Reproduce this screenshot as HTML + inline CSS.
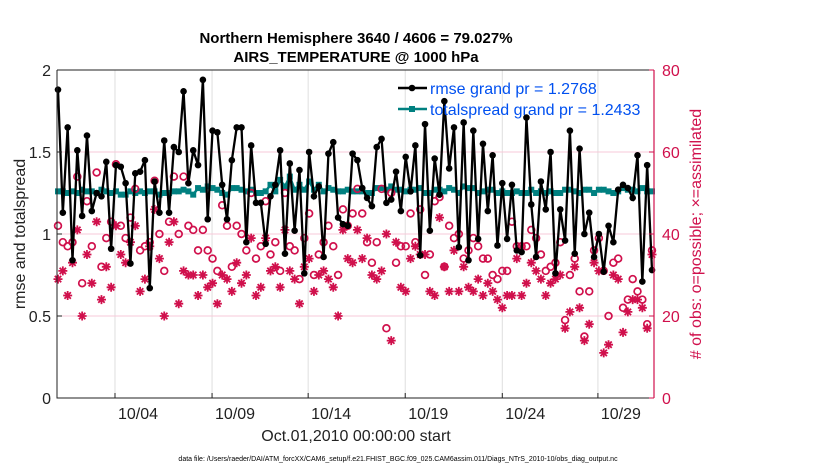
<!DOCTYPE html>
<html><head><meta charset="utf-8"><style>
body{margin:0;background:#fff;}
svg text{font-family:"Liberation Sans",Arial,sans-serif;}
</style></head><body>
<svg id="chart" width="830" height="470" viewBox="0 0 830 470" xmlns="http://www.w3.org/2000/svg">
<rect width="830" height="470" fill="#fff"/>
<g id="grid"></g>
<g id="marks"></g>
<g id="axes"></g>
</svg>
<script>
const rmse=[1.88,1.13,1.65,0.84,1.51,1.11,1.60,1.14,1.25,1.23,1.44,0.91,1.42,1.41,1.31,0.82,1.37,1.38,1.45,0.67,1.32,1.13,1.57,1.13,1.53,1.50,1.87,1.31,1.51,1.42,1.94,1.09,
1.63,1.62,1.30,1.09,1.45,1.65,1.65,0.95,1.54,1.19,1.19,0.94,1.23,1.30,1.51,0.88,1.43,1.02,1.39,0.76,1.50,1.23,1.29,0.86,1.49,1.56,1.10,1.06,1.05,1.49,1.45,
1.28,1.22,1.17,1.53,1.58,1.19,1.21,1.38,1.14,1.47,1.26,1.54,0.87,1.67,1.02,1.46,1.24,1.81,1.40,1.65,0.92,1.68,0.84,1.63,0.97,1.55,1.14,1.48,0.93,1.31,0.97,
1.30,0.90,0.89,1.71,1.18,0.86,1.32,1.15,1.50,0.76,1.15,0.96,1.63,0.88,1.52,1.00,1.13,0.86,1.00,0.77,1.05,0.95,1.27,1.30,1.28,1.22,1.48,0.71,1.42,0.78];
const spread=[1.26,1.26,1.25,1.26,1.25,1.27,1.26,1.26,1.25,1.27,1.26,1.25,1.26,1.24,1.24,1.26,1.25,1.26,1.25,1.26,1.26,1.24,1.25,1.25,1.26,1.26,1.27,1.26,1.24,1.28,1.27,1.29,
1.28,1.27,1.25,1.24,1.28,1.28,1.27,1.26,1.27,1.25,1.25,1.26,1.30,1.26,1.33,1.29,1.35,1.27,1.30,1.27,1.32,1.27,1.30,1.26,1.28,1.27,1.26,1.26,1.27,1.26,1.26,
1.26,1.25,1.25,1.28,1.28,1.27,1.29,1.27,1.27,1.26,1.27,1.27,1.28,1.25,1.25,1.27,1.27,1.26,1.28,1.27,1.25,1.29,1.28,1.28,1.25,1.26,1.27,1.27,1.25,1.26,1.25,
1.25,1.26,1.25,1.25,1.27,1.25,1.26,1.25,1.26,1.25,1.25,1.27,1.27,1.26,1.25,1.27,1.27,1.25,1.27,1.27,1.26,1.25,1.26,1.28,1.27,1.27,1.26,1.28,1.26,1.26];
const possible=[42,38,37,38,54,28,48,37,55,32,39,43,57,42,39,44,51,36,37,38,53,40,31,43,54,40,54,42,41,36,41,36,
34,31,47,42,32,42,40,36,50,34,37,48,35,38,31,50,37,36,29,39,45,30,35,38,42,37,30,46,42,45,51,
45,38,33,38,51,17,50,33,37,37,45,38,46,30,35,48,49,32,42,39,40,34,36,39,37,34,34,30,29,31,31,
43,37,37,37,41,39,35,31,32,33,38,19,30,34,26,15,26,36,39,31,20,33,34,22,24,29,26,24,18,36];
const assim=[29,31,25,33,41,20,35,28,43,24,32,27,42,35,33,38,42,26,29,37,46,34,20,38,43,23,31,30,30,25,30,27,
28,23,30,29,26,33,28,30,39,25,27,39,31,32,27,41,31,29,23,32,34,26,30,31,29,27,20,41,34,33,41,
34,39,30,29,31,40,14,38,27,26,34,37,35,35,26,25,44,32,26,36,26,32,27,26,29,25,28,26,24,22,25,
25,34,25,28,33,31,29,25,28,29,30,17,21,32,22,14,18,33,31,11,13,30,29,16,21,24,24,22,17,35];
const xTickLabels=["10/04","10/09","10/14","10/19","10/24","10/29"];
const xTickIdx=[11.8,31.9,51.8,71.9,92.0,111.8];
const yLeftTicks=[0,0.5,1,1.5,2];
const yRightTicks=[0,20,40,60,80];

const NS="http://www.w3.org/2000/svg";
const L=57,R=654,T=70,B=398;
const xs=i=>58+i*(594/123);
const yl=v=>B-(v/2)*(B-T);
const yr=c=>B-(c/80)*(B-T);
function mk(tag,attrs,parent,text){const e=document.createElementNS(NS,tag);for(const k in attrs)e.setAttribute(k,attrs[k]);if(text!==undefined)e.textContent=text;parent.appendChild(e);return e;}
const G=document.getElementById('grid'),M=document.getElementById('marks'),A=document.getElementById('axes');
const RED="#d0104c",TEAL="#008080";

xTickIdx.forEach((t,k)=>{
  const x=xs(t);
  const g=mk('line',{x1:x,x2:x,y1:T,y2:B,stroke:'#dedede','stroke-width':1},G);
  
  
  const tk=mk('line',{x1:x,x2:x,y1:B,y2:B-5,stroke:'#222'},A);
  
  
  const lb=mk('text',{x:x+23,y:419,'font-size':16,'text-anchor':'middle',fill:'#222'},A,xTickLabels[k]);
  
  
});
[0.5,1,1.5].forEach(v=>{
  const g=mk('line',{x1:L,x2:R,y1:yl(v),y2:yl(v),stroke:'#f7c9d8','stroke-width':1},G);
  
  
});

const sp=mk('polyline',{points:spread.map((v,i)=>xs(i)+','+yl(v)).join(' '),fill:'none',stroke:TEAL,'stroke-width':2.5},M);


spread.forEach((v,i)=>{
  const c=mk('rect',{x:xs(i)-3,y:yl(v)-3,width:6,height:6,fill:TEAL},M);
  
  
});
possible.forEach((v,i)=>{
  const c=mk('circle',{cx:xs(i),cy:yr(v),r:3.4,fill:'none',stroke:RED,'stroke-width':1.7},M);
  
  
});
assim.forEach((v,i)=>{
  const x=xs(i),y=yr(v),s=4.5,d=3.2;
  const p=mk('path',{d:`M${x-s},${y}H${x+s}M${x},${y-s}V${y+s}M${x-d},${y-d}L${x+d},${y+d}M${x-d},${y+d}L${x+d},${y-d}`,stroke:RED,'stroke-width':1.8,fill:'none'},M);
  
  
});
const rl=mk('polyline',{points:rmse.map((v,i)=>xs(i)+','+yl(v)).join(' '),fill:'none',stroke:'#000','stroke-width':2.3},M);


rmse.forEach((v,i)=>{
  const c=mk('circle',{cx:xs(i),cy:yl(v),r:3.3,fill:'#000'},M);
  
  
});

const fr=mk('path',{d:`M${L},${T}H${R}M${L},${T}V${B}H${R}`,fill:'none',stroke:'#222','stroke-width':1},A);


const ra=mk('line',{x1:R,x2:R,y1:T,y2:B,stroke:RED,'stroke-width':1.2},A);


yLeftTicks.forEach(v=>{
  const t=mk('text',{x:51,y:yl(v)+6,'font-size':16,'text-anchor':'end',fill:'#222'},A,String(v));
  
  
  const tk=mk('line',{x1:L,x2:L+5,y1:yl(v),y2:yl(v),stroke:'#222'},A);
  
  
});
yRightTicks.forEach(v=>{
  const t=mk('text',{x:662,y:yr(v)+6,'font-size':16,fill:RED},A,String(v));
  
  
  const tk=mk('line',{x1:R-5,x2:R,y1:yr(v),y2:yr(v),stroke:RED},A);
  
  
});
</script>
<svg style="position:absolute;left:0;top:0" width="830" height="470">
<text x="356" y="43" font-size="15" font-weight="bold" text-anchor="middle" fill="#000" font-family="Liberation Sans, sans-serif">Northern Hemisphere 3640 / 4606 = 79.027%</text>
<text x="356" y="62" font-size="15" font-weight="bold" text-anchor="middle" fill="#000" font-family="Liberation Sans, sans-serif">AIRS_TEMPERATURE @ 1000 hPa</text>
<text transform="translate(25,234) rotate(-90)" font-size="16" text-anchor="middle" fill="#222" font-family="Liberation Sans, sans-serif">rmse and totalspread</text>
<text transform="translate(701,234) rotate(-90)" font-size="16" text-anchor="middle" fill="#d0104c" font-family="Liberation Sans, sans-serif"># of obs: o=possible; ×=assimilated</text>
<text x="356" y="441" font-size="16" text-anchor="middle" fill="#222" font-family="Liberation Sans, sans-serif">Oct.01,2010 00:00:00 start</text>
<text x="398" y="461" font-size="7" text-anchor="middle" fill="#000" font-family="Liberation Sans, sans-serif">data file: /Users/raeder/DAI/ATM_forcXX/CAM6_setup/f.e21.FHIST_BGC.f09_025.CAM6assim.011/Diags_NTrS_2010-10/obs_diag_output.nc</text>
<g>
<line x1="398" x2="427" y1="88" y2="88" stroke="#000" stroke-width="2.5"/><circle cx="412" cy="88" r="3.3" fill="#000"/>
<text x="430" y="94" font-size="16" fill="#0050f0" font-family="Liberation Sans, sans-serif">rmse grand pr = 1.2768</text>
<line x1="398" x2="427" y1="109" y2="109" stroke="#008080" stroke-width="2.5"/><rect x="409" y="106" width="6" height="6" fill="#008080"/>
<text x="430" y="115" font-size="16" fill="#0050f0" font-family="Liberation Sans, sans-serif">totalspread grand pr = 1.2433</text>
</g>
</svg>
</body></html>
